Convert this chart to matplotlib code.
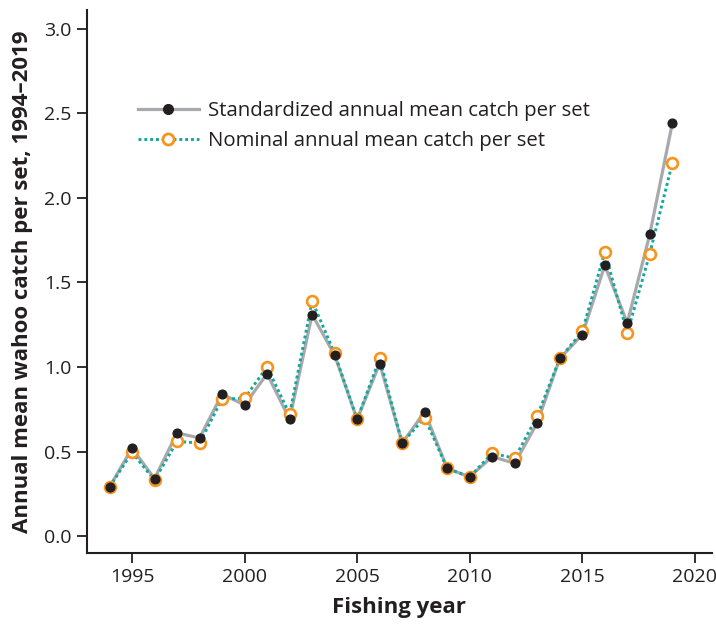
import numpy as np
import matplotlib.pyplot as plt
from matplotlib.lines import Line2D

plt.rcParams['font.family'] = ['Open Sans', 'DejaVu Sans']

# Annual mean wahoo catch per set, fishing years 1994-2019
years = np.arange(1994, 2020)

standardized = [0.29, 0.52, 0.34, 0.61, 0.58, 0.84, 0.775, 0.96, 0.69, 1.31,
                1.07, 0.69, 1.02, 0.55, 0.735, 0.40, 0.35, 0.47, 0.43, 0.67,
                1.05, 1.19, 1.60, 1.26, 1.785, 2.44]

nominal = [0.29, 0.495, 0.33, 0.56, 0.55, 0.81, 0.815, 1.00, 0.72, 1.39,
           1.08, 0.69, 1.05, 0.55, 0.70, 0.40, 0.35, 0.49, 0.46, 0.71,
           1.05, 1.21, 1.68, 1.20, 1.67, 2.205]

gray = "#a7a9ac"
black = "#231f20"
teal = "#14a89c"
orange = "#f7941d"

fig = plt.figure(figsize=(7.16, 6.28), dpi=100)
ax = fig.add_axes([0.1215, 0.1194, 0.8725, 0.8646])

# lines first, then markers so the black dots sit on top
ax.plot(years, standardized, color=gray, lw=2.3, zorder=1)
ax.plot(years, nominal, color=teal, lw=2.1, ls=(0, (1, 1)), zorder=2)
ax.plot(years, nominal, ls="none", marker="o", ms=7.8, mfc="white",
        mec=orange, mew=1.9, zorder=3)
ax.plot(years, standardized, ls="none", marker="o", ms=6.3, mfc=black,
        mec=black, zorder=4)

h1 = Line2D([], [], color=gray, lw=2.3, marker="o", ms=7, mfc=black, mec=black)
h2 = Line2D([], [], color=teal, lw=2.1, ls=(0, (1, 1)), marker="o", ms=8,
            mfc="white", mec=orange, mew=2)
ax.legend([h1, h2], ["Standardized annual mean catch per set",
                     "Nominal annual mean catch per set"],
          loc="upper left", bbox_to_anchor=(0.052, 0.866), frameon=False,
          fontsize=14.7, handlelength=3.0, handletextpad=0.45,
          labelspacing=0.5, labelcolor="#231f20")

ax.set_xlim(1993, 2020.75)
ax.set_ylim(-0.1, 3.11)
ax.set_xticks([1995, 2000, 2005, 2010, 2015, 2020])
ax.set_yticks([0.0, 0.5, 1.0, 1.5, 2.0, 2.5, 3.0])
ax.set_yticklabels(["0.0", "0.5", "1.0", "1.5", "2.0", "2.5", "3.0"])

for s in ["top", "right"]:
    ax.spines[s].set_visible(False)
for s in ["left", "bottom"]:
    ax.spines[s].set_linewidth(1.5)
    ax.spines[s].set_color(black)

ax.tick_params(direction="out", length=7, width=1.3, labelsize=14,
               colors=black, pad=4)

ax.set_xlabel("Fishing year", fontsize=16, fontweight="bold", color=black,
              labelpad=8)
ax.set_ylabel("Annual mean wahoo catch per set, 1994\u20132019", fontsize=16,
              fontweight="bold", color=black, labelpad=8)

plt.savefig("out.png", dpi=100)
